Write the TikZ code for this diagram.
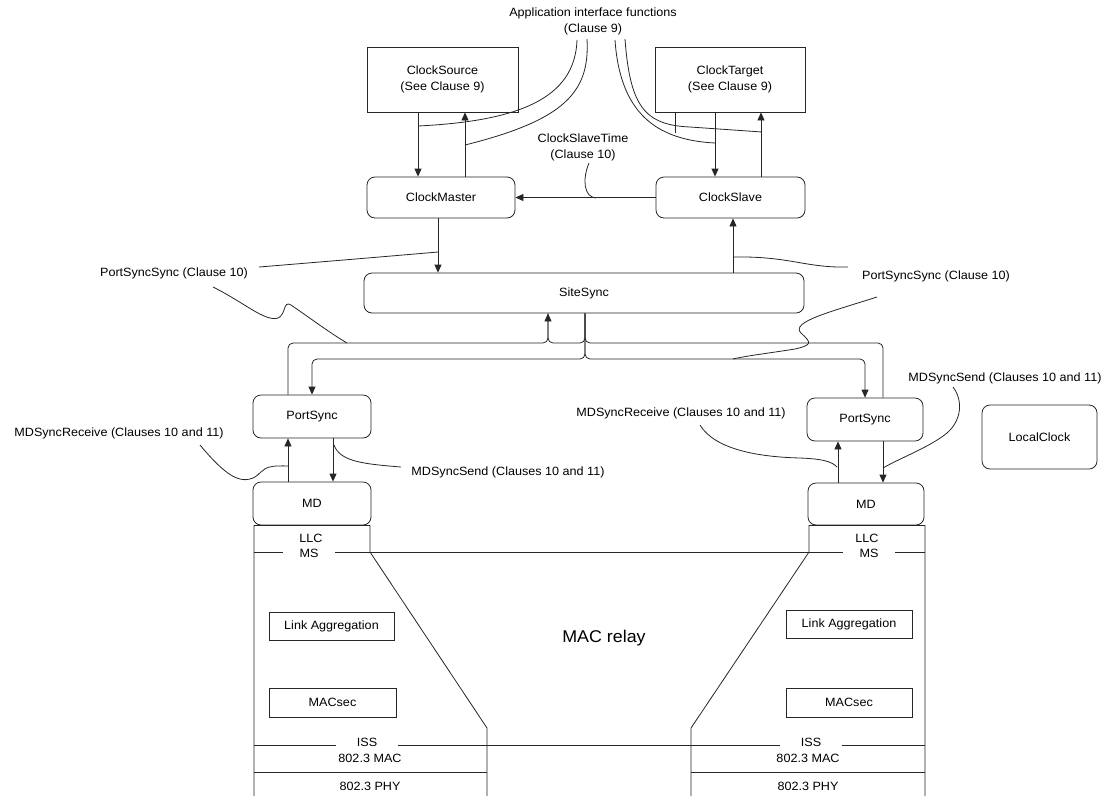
\documentclass[tikz,border=0pt]{standalone}
\usepackage{fontspec}
\setmainfont{Liberation Sans}[FakeStretch=1.05]
\usetikzlibrary{arrows.meta}

\begin{document}
\begin{tikzpicture}[x=1pt,y=-1pt,line width=0.8pt,black!85,>={Triangle[length=8pt,width=7pt]},
  every node/.style={font=\fontsize{12}{16}\selectfont,align=center,inner sep=0pt,text=black},
  box/.style args={#1x#2}{draw,minimum width=#1pt,minimum height=#2pt},
  rbox/.style={box=#1,rounded corners=8pt},
  gap/.style={fill=white,inner xsep=#1pt,inner ysep=1pt},
  bus/.style={rounded corners=5pt}]
\useasboundingbox (0,0) rectangle (1108,796);

\node (api) at (593,21) {Application interface functions\\(Clause 9)};
\node[box=151x65] (src) at (442.5,79.5) {ClockSource\\(See Clause 9)};
\node[box=150x65] (tgt) at (730,79.5) {ClockTarget\\(See Clause 9)};
\node[rbox=148x41] (cmaster) at (441,197.5) {ClockMaster};
\node[rbox=149x41] (cslave) at (730.5,197.5) {ClockSlave};
\node (cst) at (583,147) {ClockSlaveTime\\(Clause 10)};
\node[rbox=440x40] (site) at (584,293) {SiteSync};
\node (pssL) at (174,273) {PortSyncSync (Clause 10)};
\node (pssR) at (936,276) {PortSyncSync (Clause 10)};
\node[rbox=118x43] (psL) at (312,416.5) {PortSync};
\node[rbox=116x43] (psR) at (865,419.5) {PortSync};
\node[rbox=118x43] (mdL) at (312,503.5) {MD};
\node[rbox=116x42] (mdR) at (866,504) {MD};
\node[rbox=115x64] (lclk) at (1039.5,437) {LocalClock};
\node (mdrL) at (119,433) {MDSyncReceive (Clauses 10 and 11)};
\node (mdsL) at (508,472) {MDSyncSend (Clauses 10 and 11)};
\node (mdrR) at (681,413) {MDSyncReceive (Clauses 10 and 11)};
\node (mdsR) at (1005,378) {MDSyncSend (Clauses 10 and 11)};

\draw[->] (418,0 |- src.south) -- (418,0 |- cmaster.north);
\draw[->] (465,0 |- cmaster.north) -- (465,0 |- src.south);
\draw[->] (715,0 |- tgt.south) -- (715,0 |- cslave.north);
\draw[->] (761,0 |- cslave.north) -- (761,0 |- tgt.south);
\draw[->] (cslave.west) -- (cmaster.east);
\draw[->] (438,0 |- cmaster.south) -- (438,0 |- site.north);
\draw[->] (733,0 |- site.north) -- (733,0 |- cslave.south);

\draw[->,bus] (288,0 |- psL.north) |- (548,343) -- (548,0 |- site.south);
\draw[bus] (548,0 |- site.south) |- (566,343) -| (585,0 |- site.south);
\draw[bus] (883,0 |- psR.north) |- (585,343) -- (585,0 |- site.south);
\draw[->,bus] (585,0 |- site.south) |- (450,359) -| (312,0 |- psL.north);
\draw[->,bus] (585,0 |- site.south) |- (700,359) -| (865,0 |- psR.north);

\draw[->] (288,0 |- mdL.north) -- (288,0 |- psL.south);
\draw[->] (333,0 |- psL.south) -- (333,0 |- mdL.north);
\draw[->] (838,0 |- mdR.north) -- (838,0 |- psR.south);
\draw[->] (883,0 |- psR.south) -- (883,0 |- mdR.north);

% callouts
\draw (418,126) .. controls (520,121) and (575,98) .. (577,40);
\draw (465,145) .. controls (565,120) and (590,92) .. (587,39);
\draw (615,40) .. controls (620,112) and (655,140) .. (715,143);
\draw (625,39) .. controls (630,107) and (645,125) .. (690,127) -- (762,132);
\draw (675,0 |- tgt.south) -- (675,133);
\draw (589,163) .. controls (582,180) and (584,197) .. (596,198);
\draw (259,267) .. controls (320,262) and (380,257) .. (438,252);
\draw (733,257) .. controls (790,256) and (805,268) .. (848,267);
\draw (213,287) .. controls (245,303) and (265,322) .. (278,318) .. controls (286,315) and (283,300) .. (291,305) .. controls (310,318) and (330,333) .. (347,343);
\draw (877,297) .. controls (830,312) and (790,322) .. (801,333) .. controls (812,343) and (812,345) .. (795,349) .. controls (770,353) and (745,356) .. (733,359);
\draw (200,445) .. controls (225,475) and (240,485) .. (255,477) .. controls (265,470) and (262,465) .. (288,466);
\draw (334,445) .. controls (340,462) and (365,464) .. (401,467);
\draw (700,425) .. controls (715,450) and (760,457) .. (800,458) .. controls (825,459) and (832,462) .. (837,467);
\draw (953,387) .. controls (963,400) and (962,420) .. (947,433) .. controls (930,447) and (900,458) .. (883,468);

% bridge ports
\draw (254,796) -- (254,0 |- mdL.south) -- (370,0 |- mdL.south) -- (370,552) -- (487,728) -- (487,796);
\draw (925,796) -- (925,0 |- mdR.south) -- (809,0 |- mdR.south) -- (809,552) -- (691,728) -- (691,796);
\draw (254,552) -- (925,552);
\draw (254,745) -- (925,745);
\draw (254,772) -- (487,772) (691,772) -- (925,772);
\node (llcL) at (311,538) {LLC};
\node[gap=17] (msL) at (309,553) {MS};
\node (llcR) at (867,538) {LLC};
\node[gap=17] (msR) at (869,553) {MS};
\node[gap=21] (issL) at (367,742) {ISS};
\node[gap=21] (issR) at (811,742) {ISS};
\node (macL) at (370,758) {802.3 MAC};
\node (macR) at (808,758) {802.3 MAC};
\node (phyL) at (370,786) {802.3 PHY};
\node (phyR) at (808,786) {802.3 PHY};
\node[box=125x28] (linkL) at (331.5,626) {Link Aggregation};
\node[box=126x28] (linkR) at (849,624) {Link Aggregation};
\node[box=127x29] (secL) at (332.5,702.5) {MACsec};
\node[box=126x29] (secR) at (849,702.5) {MACsec};
\node[font=\fontsize{17}{20}\selectfont] (relay) at (604,638) {MAC relay};
\end{tikzpicture}
\end{document}
